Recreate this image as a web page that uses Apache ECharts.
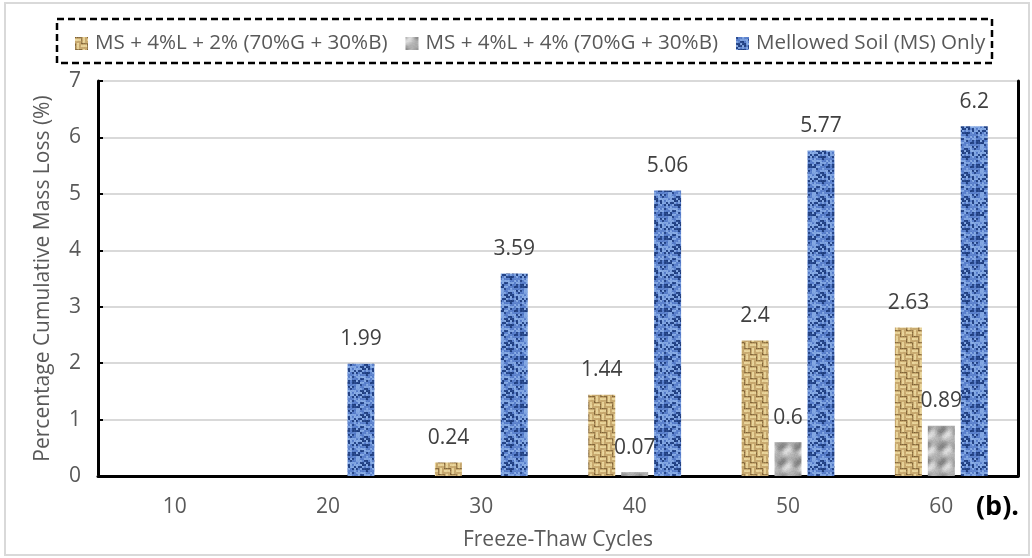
<!DOCTYPE html>
<html>
<head>
<meta charset="utf-8">
<script src="https://cdn.jsdelivr.net/npm/echarts@6/dist/echarts.min.js"></script>
<style>
  html, body { margin: 0; padding: 0; background: #ffffff; }
  #chart { width: 1032px; height: 558px; }
</style>
</head>
<body>
<div id="chart"></div>
<script>
// Freeze-thaw cycle counts on the x axis
const cycles = ['10', '20', '30', '40', '50', '60'];

// Cumulative mass loss (%) per mix
const seriesNames = [
  'MS + 4%L + 2% (70%G + 30%B)',
  'MS + 4%L + 4% (70%G + 30%B)',
  'Mellowed Soil (MS) Only'
];
const lossMix2 = [0, 0, 0.24, 1.44, 2.4, 2.63];
const lossMix4 = [0, 0, 0, 0.07, 0.6, 0.89];
const lossSoilOnly = [0, 1.99, 3.59, 5.06, 5.77, 6.2];

const yTicks = { min: 0, max: 7, interval: 1 };

const FONT = '"Open Sans", "Noto Sans", sans-serif';

// Deterministic pseudo-noise used only for fabric textures
function hash(x, y) {
  const s = Math.sin(x * 12.9898 + y * 78.233) * 43758.5453;
  return s - Math.floor(s);
}

function mix(a, b, t) {
  return [0, 1, 2].map(i => Math.round(a[i] + (b[i] - a[i]) * t));
}

function texture(size, shader) {
  const c = document.createElement('canvas');
  c.width = size; c.height = size;
  const ctx = c.getContext('2d');
  const img = ctx.createImageData(size, size);
  for (let y = 0; y < size; y++) {
    for (let x = 0; x < size; x++) {
      const col = shader(x, y);
      const k = (y * size + x) * 4;
      img.data[k] = col[0]; img.data[k + 1] = col[1]; img.data[k + 2] = col[2]; img.data[k + 3] = 255;
    }
  }
  ctx.putImageData(img, 0, 0);
  return c;
}

// Tan basket weave
const weave = texture(24, (x, y) => {
  const bx = Math.floor(x / 6), by = Math.floor(y / 6);
  const horiz = (bx + by) % 2 === 0;
  const s = horiz ? y % 6 : x % 6;
  const dark = [125, 96, 52], mid = [196, 164, 106], light = [236, 216, 158];
  const col = s === 0 ? dark : (s === 5 ? mid : (s === 2 || s === 3 ? light : mid));
  return mix(col, [214, 188, 130], hash(x, y) * 0.45);
});

// Grey marbled stone
const marble = texture(32, (x, y) => {
  const a = Math.sin((x + 1.8 * Math.sin(y * 0.39)) * 0.39);
  const b = Math.sin((y + 2.1 * Math.sin(x * 0.39)) * 0.39);
  const t = 0.5 + 0.25 * a + 0.25 * b;
  const n = (hash(x + 3, y + 7) - 0.5) * 0.15;
  return mix([130, 130, 130], [222, 222, 222], Math.min(1, Math.max(0, t + n)));
});

// Blue denim speckle
const denim = texture(24, (x, y) => {
  const h = hash(Math.floor(x / 2) + 1, Math.floor(y / 2) + 2);
  const g = hash(x + 11, y + 5);
  const dark = [28, 58, 122], mid = [78, 116, 196], light = [140, 176, 232];
  if (h < 0.24) return mix(dark, mid, g * 0.35);
  if (h > 0.6) return mix(light, mid, g * 0.35);
  return mix(mid, light, g * 0.35);
});

function pattern(canvas) {
  return { image: canvas, repeat: 'repeat' };
}

const labelStyle = {
  show: true,
  position: 'top',
  distance: 14,
  color: '#404040',
  fontFamily: FONT,
  fontSize: 21,
  formatter: p => (p.value > 0 ? String(p.value) : '')
};

function barSeries(name, data, tex) {
  return {
    name: name,
    type: 'bar',
    data: data,
    barWidth: '17.6%',
    barGap: '22%',
    itemStyle: { color: pattern(tex) },
    label: labelStyle,
    emphasis: { disabled: true }
  };
}

const chart = echarts.init(document.getElementById('chart'));

chart.setOption({
  animation: false,
  backgroundColor: '#ffffff',
  textStyle: { fontFamily: FONT },
  grid: { left: 98, right: 14, top: 81, bottom: 82, containLabel: false },
  legend: {
    top: 28,
    left: 70,
    itemWidth: 13,
    itemHeight: 13,
    itemGap: 18,
    icon: 'rect',
    textStyle: { color: '#595959', fontSize: 20.6, fontFamily: FONT, padding: [0, 0, 0, 2] },
    data: seriesNames
  },
  graphic: [
    {
      type: 'rect',
      shape: { x: 5, y: 3, width: 1024, height: 552 },
      style: { fill: 'none', stroke: '#d9d9d9', lineWidth: 2 },
      silent: true
    },
    {
      type: 'rect',
      shape: { x: 57, y: 19, width: 935, height: 44 },
      style: { fill: 'none', stroke: '#000000', lineWidth: 2.5, lineDash: [7, 4] },
      silent: true
    },
    {
      type: 'text',
      right: 13,
      top: 494,
      style: { text: '(b).', fontSize: 27, fontWeight: 'bold', fill: '#000000', fontFamily: FONT }
    }
  ],
  xAxis: [
    {
      type: 'category',
      data: cycles,
      position: 'bottom',
      name: 'Freeze-Thaw Cycles',
      nameLocation: 'middle',
      nameGap: 54,
      nameTextStyle: { color: '#595959', fontSize: 21, fontFamily: FONT },
      axisLine: { show: true, lineStyle: { color: '#8c8c8c', width: 2 } },
      axisTick: { show: false },
      axisLabel: { color: '#595959', fontSize: 21, margin: 21, fontFamily: FONT },
      splitLine: { show: false }
    },
    {
      type: 'category',
      data: cycles,
      position: 'top',
      axisLine: { show: true, lineStyle: { color: '#000000', width: 3 } },
      axisTick: { show: false },
      axisLabel: { show: false },
      splitLine: { show: false }
    }
  ],
  yAxis: [
    {
      type: 'value',
      min: yTicks.min,
      max: yTicks.max,
      interval: yTicks.interval,
      position: 'left',
      name: 'Percentage Cumulative Mass Loss (%)',
      nameLocation: 'middle',
      nameRotate: 90,
      nameGap: 44,
      nameTextStyle: { color: '#595959', fontSize: 21, fontFamily: FONT },
      axisLine: { show: true, lineStyle: { color: '#000000', width: 3 } },
      axisTick: { show: true, inside: true, length: 5, lineStyle: { color: '#000000', width: 2 } },
      axisLabel: { color: '#595959', fontSize: 21, margin: 17, fontFamily: FONT },
      splitLine: { show: true, lineStyle: { color: '#d9d9d9', width: 2 } }
    },
    {
      type: 'value',
      min: yTicks.min,
      max: yTicks.max,
      interval: yTicks.interval,
      position: 'right',
      axisLine: { show: true, lineStyle: { color: '#000000', width: 3 } },
      axisTick: { show: false },
      axisLabel: { show: false },
      splitLine: { show: false }
    }
  ],
  series: [
    barSeries(seriesNames[0], lossMix2, weave),
    barSeries(seriesNames[1], lossMix4, marble),
    barSeries(seriesNames[2], lossSoilOnly, denim)
  ]
});
</script>
</body>
</html>
